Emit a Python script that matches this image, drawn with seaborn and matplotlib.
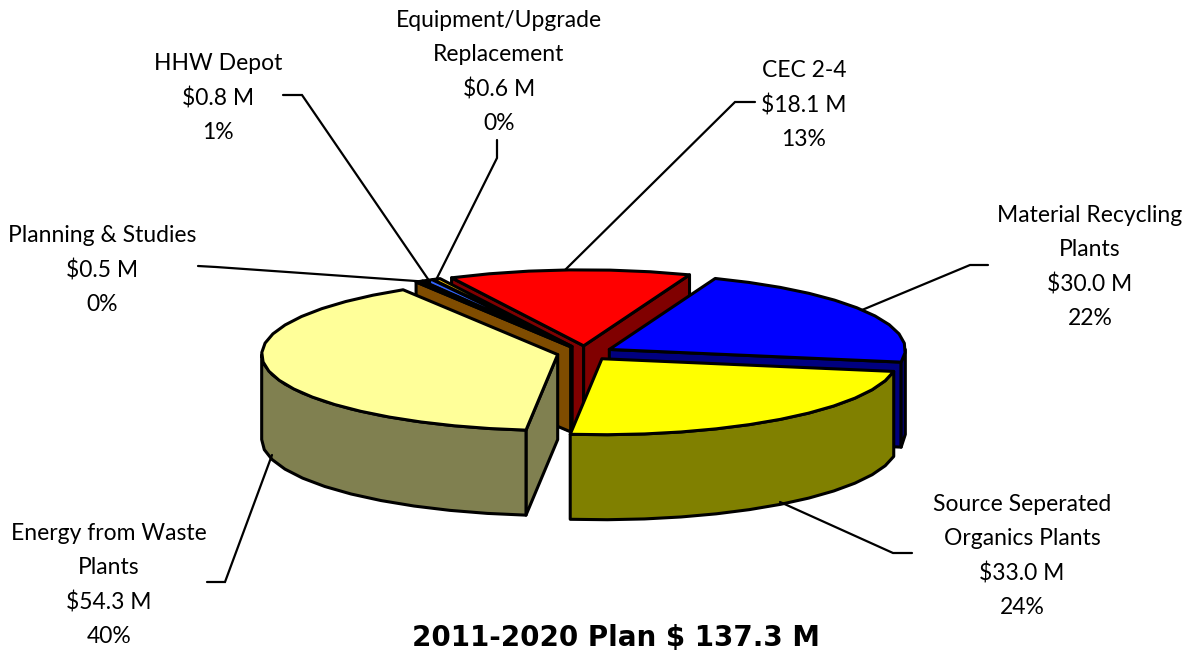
import numpy as np
import matplotlib
matplotlib.use("Agg")
import matplotlib.pyplot as plt
from matplotlib.patches import Polygon
import seaborn as sns

# ---- data ----
names = ["CEC 2-4", "Material Recycling\nPlants", "Source Seperated\nOrganics Plants",
         "Energy from Waste\nPlants", "Planning & Studies", "HHW Depot",
         "Equipment/Upgrade\nReplacement"]
values = [18.1, 30.0, 33.0, 54.3, 0.5, 0.8, 0.6]
top_hex = ["#FF0000", "#0000FF", "#FFFF00", "#FFFF99", "#7F4C00", "#3366FF", "#FFCC00"]
side_hex = ["#800000", "#000080", "#808000", "#808050", "#7F4C00", "#1A3380", "#806600"]
title = "2011-2020 Plan $ 137.3 M"

# ---- layout ----
sns.set_theme(style="white")
plt.rcParams["font.family"] = ["Lato", "DejaVu Sans"]
top_colors = sns.color_palette(top_hex)
side_colors = sns.color_palette(side_hex)

CX, CY, RX, RY, DEPTH = 585, 353, 296, 76, 85
EXPLODE = 28
START = 116.5
ARC_STEP = 7

label_pos = [(804, 105), (1090, 267), (1022, 556), (109, 585), (102, 270), (218, 98), (499, 72)]
leaders = [
    [(755, 102), (735, 102), (565, 270)],
    [(988, 265), (970, 265), (862, 310)],
    [(780, 502), (893, 553), (912, 553)],
    [(207, 582), (225, 582), (272, 455)],
    [(198, 266), (216, 267), (430, 282)],
    [(283, 95), (302, 95), (430, 282)],
    [(497, 140), (497, 158), (436, 280)],
]

fig = plt.figure(figsize=(11.99, 6.54), dpi=100, facecolor="white")
ax = fig.add_axes([0, 0, 1, 1])
ax.set_xlim(0, 1199)
ax.set_ylim(654, 0)
ax.axis("off")

total = sum(values)
sweeps = np.array(values) / total * 360
starts = START - np.concatenate([[0], np.cumsum(sweeps)[:-1]])
ends = starts - sweeps


def apex(i):
    mid = np.radians((starts[i] + ends[i]) / 2)
    return (CX + EXPLODE * np.cos(mid), CY - EXPLODE * (RY / RX) * np.sin(mid))


def rim(i, deg):
    ax0, ay0 = apex(i)
    t = np.radians(deg)
    return np.column_stack([ax0 + RX * np.cos(t), ay0 - RY * np.sin(t)])


def arc(a, b):
    n = max(int(abs(a - b) / ARC_STEP), 1) + 1
    return np.linspace(a, b, n)


def poly(pts, color, z):
    ax.add_patch(Polygon(pts, closed=True, facecolor=color, edgecolor="black",
                         linewidth=2.2, joinstyle="round", zorder=z))


def draw_slice(i, z):
    a, b = starts[i], ends[i]
    p = np.array(apex(i))
    down = np.array([0, DEPTH])
    for deg, visible in ((a, np.cos(np.radians(a)) < 0), (b, np.cos(np.radians(b)) > 0)):
        if visible:
            tip = rim(i, np.array([deg]))[0]
            poly([p, tip, tip + down, p + down], side_colors[i], z)
    # outer wall: only the part of the rim that faces the viewer
    lo, hi = None, None
    for shift in (0, -360):
        hi_ = min(a, 0 + shift)
        lo_ = max(b, -180 + shift)
        if hi_ > lo_:
            lo, hi = lo_, hi_
    if hi is not None:
        upper = rim(i, arc(hi, lo))
        poly(np.vstack([upper, upper[::-1] + down]), side_colors[i], z)
    poly(np.vstack([[p], rim(i, arc(a, b))]), top_colors[i], z)


for z, i in enumerate([0, 1, 6, 5, 4, 3, 2], start=3):
    draw_slice(i, z)

for line in leaders:
    xs, ys = zip(*line)
    ax.plot(xs, ys, color="black", lw=1.6, zorder=20, solid_joinstyle="miter")

for i, (x, y) in enumerate(label_pos):
    pct = round(values[i] / total * 100)
    ax.text(x, y, f"{names[i]}\n\\${values[i]:.1f} M\n{pct}%", ha="center", va="center",
            fontsize=16.5, color="black", linespacing=1.75, zorder=21)

ax.text(616, 638, title.replace("$", r"\$"), ha="center", va="center", fontsize=20,
        fontweight="bold", family=["DejaVu Sans"], color="black", zorder=21)

fig.savefig("out.png", dpi=100, facecolor="white")
